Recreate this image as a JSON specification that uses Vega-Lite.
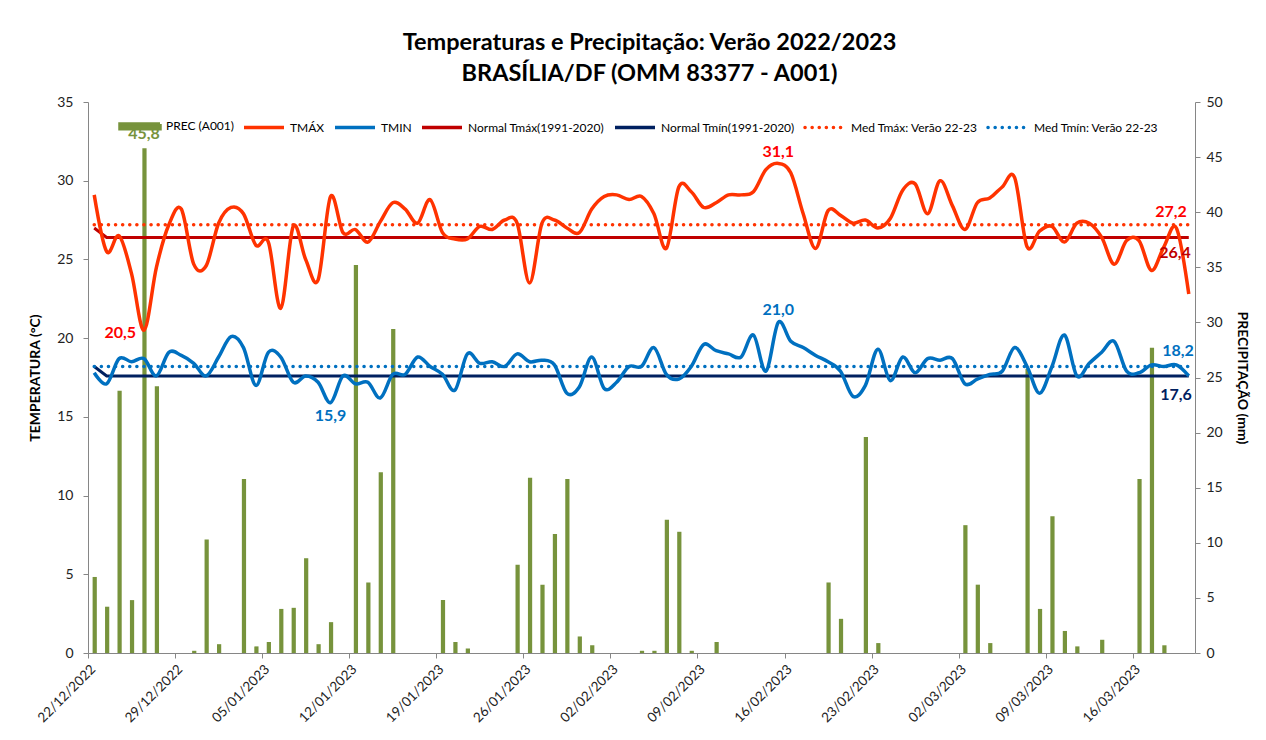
{
  "$schema": "https://vega.github.io/schema/vega-lite/v6.json",
  "width": 1107,
  "height": 551,
  "autosize": {"type": "none"},
  "padding": {"left": 88, "top": 102, "right": 71, "bottom": 87},
  "background": "white",
  "config": {"view": {"stroke": null}, "font": "Lato"},
  "title": {
    "text": ["Temperaturas e Precipitação: Verão 2022/2023", "BRASÍLIA/DF (OMM 83377 - A001)"],
    "font": "Lato", "fontSize": 23.5, "fontWeight": "bold", "color": "#000000",
    "lineHeight": 31, "anchor": "middle", "dx": 8, "offset": 10
  },
  "datasets": {
    "daily": [
      {"date": "2022-12-22", "prec": 6.9, "tmax": 29.1, "tmin": 17.8},
      {"date": "2022-12-23", "prec": 4.2, "tmax": 25.5, "tmin": 17.1},
      {"date": "2022-12-24", "prec": 23.8, "tmax": 26.5, "tmin": 18.7},
      {"date": "2022-12-25", "prec": 4.8, "tmax": 24.1, "tmin": 18.5},
      {"date": "2022-12-26", "prec": 45.8, "tmax": 20.5, "tmin": 18.7},
      {"date": "2022-12-27", "prec": 24.2, "tmax": 24.5, "tmin": 17.6},
      {"date": "2022-12-28", "prec": 0, "tmax": 27.2, "tmin": 19.1},
      {"date": "2022-12-29", "prec": 0, "tmax": 28.2, "tmin": 18.9},
      {"date": "2022-12-30", "prec": 0.2, "tmax": 24.7, "tmin": 18.4},
      {"date": "2022-12-31", "prec": 10.3, "tmax": 24.6, "tmin": 17.6},
      {"date": "2023-01-01", "prec": 0.8, "tmax": 27.3, "tmin": 18.8},
      {"date": "2023-01-02", "prec": 0, "tmax": 28.3, "tmin": 20.1},
      {"date": "2023-01-03", "prec": 15.8, "tmax": 27.9, "tmin": 19.4},
      {"date": "2023-01-04", "prec": 0.6, "tmax": 25.9, "tmin": 17.0},
      {"date": "2023-01-05", "prec": 1.0, "tmax": 26.1, "tmin": 19.1},
      {"date": "2023-01-06", "prec": 4.0, "tmax": 21.9, "tmin": 18.8},
      {"date": "2023-01-07", "prec": 4.1, "tmax": 27.1, "tmin": 17.2},
      {"date": "2023-01-08", "prec": 8.6, "tmax": 25.0, "tmin": 17.6},
      {"date": "2023-01-09", "prec": 0.8, "tmax": 23.7, "tmin": 17.2},
      {"date": "2023-01-10", "prec": 2.8, "tmax": 29.0, "tmin": 15.9},
      {"date": "2023-01-11", "prec": 0, "tmax": 26.7, "tmin": 17.6},
      {"date": "2023-01-12", "prec": 35.2, "tmax": 26.9, "tmin": 17.1},
      {"date": "2023-01-13", "prec": 6.4, "tmax": 26.1, "tmin": 17.2},
      {"date": "2023-01-14", "prec": 16.4, "tmax": 27.4, "tmin": 16.2},
      {"date": "2023-01-15", "prec": 29.4, "tmax": 28.6, "tmin": 17.7},
      {"date": "2023-01-16", "prec": 0, "tmax": 28.2, "tmin": 17.7},
      {"date": "2023-01-17", "prec": 0, "tmax": 27.3, "tmin": 18.8},
      {"date": "2023-01-18", "prec": 0, "tmax": 28.8, "tmin": 18.2},
      {"date": "2023-01-19", "prec": 4.8, "tmax": 26.7, "tmin": 17.7},
      {"date": "2023-01-20", "prec": 1.0, "tmax": 26.3, "tmin": 16.7},
      {"date": "2023-01-21", "prec": 0.4, "tmax": 26.3, "tmin": 19.0},
      {"date": "2023-01-22", "prec": 0, "tmax": 27.1, "tmin": 18.4},
      {"date": "2023-01-23", "prec": 0, "tmax": 26.9, "tmin": 18.5},
      {"date": "2023-01-24", "prec": 0, "tmax": 27.5, "tmin": 18.2},
      {"date": "2023-01-25", "prec": 8.0, "tmax": 27.3, "tmin": 19.0},
      {"date": "2023-01-26", "prec": 15.9, "tmax": 23.5, "tmin": 18.5},
      {"date": "2023-01-27", "prec": 6.2, "tmax": 27.3, "tmin": 18.6},
      {"date": "2023-01-28", "prec": 10.8, "tmax": 27.5, "tmin": 18.3},
      {"date": "2023-01-29", "prec": 15.8, "tmax": 27.0, "tmin": 16.5},
      {"date": "2023-01-30", "prec": 1.5, "tmax": 26.7, "tmin": 16.9},
      {"date": "2023-01-31", "prec": 0.7, "tmax": 28.2, "tmin": 18.8},
      {"date": "2023-02-01", "prec": 0, "tmax": 29.0, "tmin": 16.8},
      {"date": "2023-02-02", "prec": 0, "tmax": 29.1, "tmin": 17.2},
      {"date": "2023-02-03", "prec": 0, "tmax": 28.8, "tmin": 18.2},
      {"date": "2023-02-04", "prec": 0.2, "tmax": 29.0, "tmin": 18.2},
      {"date": "2023-02-05", "prec": 0.2, "tmax": 27.9, "tmin": 19.4},
      {"date": "2023-02-06", "prec": 12.1, "tmax": 25.7, "tmin": 17.7},
      {"date": "2023-02-07", "prec": 11.0, "tmax": 29.6, "tmin": 17.4},
      {"date": "2023-02-08", "prec": 0.2, "tmax": 29.3, "tmin": 18.2},
      {"date": "2023-02-09", "prec": 0, "tmax": 28.3, "tmin": 19.6},
      {"date": "2023-02-10", "prec": 1.0, "tmax": 28.6, "tmin": 19.2},
      {"date": "2023-02-11", "prec": 0, "tmax": 29.1, "tmin": 19.0},
      {"date": "2023-02-12", "prec": 0, "tmax": 29.1, "tmin": 18.8},
      {"date": "2023-02-13", "prec": 0, "tmax": 29.3, "tmin": 20.2},
      {"date": "2023-02-14", "prec": 0, "tmax": 30.7, "tmin": 17.9},
      {"date": "2023-02-15", "prec": 0, "tmax": 31.1, "tmin": 21.0},
      {"date": "2023-02-16", "prec": 0, "tmax": 30.5, "tmin": 19.8},
      {"date": "2023-02-17", "prec": 0, "tmax": 27.9, "tmin": 19.4},
      {"date": "2023-02-18", "prec": 0, "tmax": 25.7, "tmin": 18.9},
      {"date": "2023-02-19", "prec": 6.4, "tmax": 28.1, "tmin": 18.5},
      {"date": "2023-02-20", "prec": 3.1, "tmax": 27.8, "tmin": 17.9},
      {"date": "2023-02-21", "prec": 0, "tmax": 27.3, "tmin": 16.3},
      {"date": "2023-02-22", "prec": 19.6, "tmax": 27.5, "tmin": 17.0},
      {"date": "2023-02-23", "prec": 0.9, "tmax": 27.0, "tmin": 19.3},
      {"date": "2023-02-24", "prec": 0, "tmax": 27.6, "tmin": 17.3},
      {"date": "2023-02-25", "prec": 0, "tmax": 29.4, "tmin": 18.8},
      {"date": "2023-02-26", "prec": 0, "tmax": 29.8, "tmin": 17.8},
      {"date": "2023-02-27", "prec": 0, "tmax": 27.9, "tmin": 18.7},
      {"date": "2023-02-28", "prec": 0, "tmax": 30.0, "tmin": 18.6},
      {"date": "2023-03-01", "prec": 0, "tmax": 28.4, "tmin": 18.7},
      {"date": "2023-03-02", "prec": 11.6, "tmax": 26.9, "tmin": 17.1},
      {"date": "2023-03-03", "prec": 6.2, "tmax": 28.6, "tmin": 17.4},
      {"date": "2023-03-04", "prec": 0.9, "tmax": 28.9, "tmin": 17.7},
      {"date": "2023-03-05", "prec": 0, "tmax": 29.6, "tmin": 17.9},
      {"date": "2023-03-06", "prec": 0, "tmax": 30.2, "tmin": 19.4},
      {"date": "2023-03-07", "prec": 25.8, "tmax": 25.8, "tmin": 18.2},
      {"date": "2023-03-08", "prec": 4.0, "tmax": 26.8, "tmin": 16.5},
      {"date": "2023-03-09", "prec": 12.4, "tmax": 27.1, "tmin": 18.2},
      {"date": "2023-03-10", "prec": 2.0, "tmax": 26.1, "tmin": 20.2},
      {"date": "2023-03-11", "prec": 0.6, "tmax": 27.3, "tmin": 17.6},
      {"date": "2023-03-12", "prec": 0, "tmax": 27.3, "tmin": 18.4},
      {"date": "2023-03-13", "prec": 1.2, "tmax": 26.4, "tmin": 19.1},
      {"date": "2023-03-14", "prec": 0, "tmax": 24.7, "tmin": 19.8},
      {"date": "2023-03-15", "prec": 0, "tmax": 26.2, "tmin": 17.9},
      {"date": "2023-03-16", "prec": 15.8, "tmax": 26.2, "tmin": 17.8},
      {"date": "2023-03-17", "prec": 27.7, "tmax": 24.3, "tmin": 18.3},
      {"date": "2023-03-18", "prec": 0.7, "tmax": 25.8, "tmin": 18.2},
      {"date": "2023-03-19", "prec": 0, "tmax": 27.0, "tmin": 18.3},
      {"date": "2023-03-20", "prec": 0, "tmax": 22.8, "tmin": 17.6}
    ],
    "refs": [
      {"date": "2022-12-22", "series": "ntmax", "temp": 27.0},
      {"date": "2022-12-23", "series": "ntmax", "temp": 26.4},
      {"date": "2023-03-20", "series": "ntmax", "temp": 26.4},
      {"date": "2022-12-22", "series": "ntmin", "temp": 18.2},
      {"date": "2022-12-23", "series": "ntmin", "temp": 17.6},
      {"date": "2023-03-20", "series": "ntmin", "temp": 17.6},
      {"date": "2022-12-22", "series": "medtmax", "temp": 27.2},
      {"date": "2023-03-20", "series": "medtmax", "temp": 27.2},
      {"date": "2022-12-22", "series": "medtmin", "temp": 18.2},
      {"date": "2023-03-20", "series": "medtmin", "temp": 18.2}
    ]
  },
  "data": {"name": "daily"},
  "encoding": {
    "x": {
      "field": "date", "type": "temporal", "timeUnit": "utcyearmonthdate", "bandPosition": 0.5,
      "scale": {"domain": [{"year": 2022, "month": 12, "date": 22, "utc": true}, {"year": 2023, "month": 3, "date": 21, "utc": true}], "nice": false},
      "axis": {
        "values": [
          {"year": 2022, "month": 12, "date": 22, "utc": true},
          {"year": 2022, "month": 12, "date": 29, "utc": true},
          {"year": 2023, "month": 1, "date": 5, "utc": true},
          {"year": 2023, "month": 1, "date": 12, "utc": true},
          {"year": 2023, "month": 1, "date": 19, "utc": true},
          {"year": 2023, "month": 1, "date": 26, "utc": true},
          {"year": 2023, "month": 2, "date": 2, "utc": true},
          {"year": 2023, "month": 2, "date": 9, "utc": true},
          {"year": 2023, "month": 2, "date": 16, "utc": true},
          {"year": 2023, "month": 2, "date": 23, "utc": true},
          {"year": 2023, "month": 3, "date": 2, "utc": true},
          {"year": 2023, "month": 3, "date": 9, "utc": true},
          {"year": 2023, "month": 3, "date": 16, "utc": true}
        ],
        "labelExpr": "utcFormat(datum.value, '%d/%m/%Y')",
        "labelAngle": -45, "labelFontSize": 13.5,
        "labelColor": "#222222", "labelPadding": 4, "tickSize": 5, "title": null, "grid": false,
        "domainColor": "#868686", "tickColor": "#868686", "labelFont": "Lato"
      }
    }
  },
  "layer": [
    {
      "encoding": {
        "y": {
          "field": "prec", "type": "quantitative",
          "scale": {"domain": [0, 50], "nice": false},
          "axis": {
            "orient": "right", "values": [0, 5, 10, 15, 20, 25, 30, 35, 40, 45, 50],
            "title": "PRECIPITAÇÃO (mm)", "titleFontSize": 14, "titleFontWeight": "bold", "titleColor": "#000000",
            "labelFontSize": 14, "labelColor": "#222222", "tickSize": 5, "labelPadding": 6, "titlePadding": 12,
            "domainColor": "#868686", "tickColor": "#868686", "grid": false
          }
        }
      },
      "layer": [
        {
          "transform": [{"fold": ["prec"], "as": ["series", "prec"]}],
          "mark": {"type": "bar", "width": {"band": 0.42}},
          "encoding": {
            "color": {
              "field": "series", "type": "nominal",
              "scale": {"domain": ["prec", "tmax", "tmin", "ntmax", "ntmin", "medtmax", "medtmin"], "range": ["#77933C", "#FF3300", "#0070C0", "#C00000", "#002060", "#FF3300", "#0070C0"]}
            }
          }
        },
        {
          "data": {"values": [{"date": "2022-12-26", "prec": 45.8, "t": "45,8"}]},
          "mark": {"type": "text", "baseline": "bottom", "dy": -6, "fontSize": 16, "fontWeight": "bold", "color": "#77933C"},
          "encoding": {"text": {"field": "t"}}
        }
      ]
    },
    {
      "encoding": {
        "y": {
          "field": "temp", "type": "quantitative",
          "scale": {"domain": [0, 35], "nice": false},
          "axis": {
            "orient": "left", "values": [0, 5, 10, 15, 20, 25, 30, 35],
            "title": "TEMPERATURA  (°C)", "titleFontSize": 14, "titleFontWeight": "bold", "titleColor": "#000000",
            "labelFontSize": 14, "labelColor": "#222222", "tickSize": 5, "labelPadding": 10, "titlePadding": 14,
            "domainColor": "#868686", "tickColor": "#868686", "grid": false
          }
        }
      },
      "layer": [
        {
          "data": {"name": "refs"},
          "transform": [{"filter": "datum.series === 'ntmax' || datum.series === 'ntmin'"}],
          "mark": {"type": "line", "strokeWidth": 3},
          "encoding": {
            "color": {
              "field": "series", "type": "nominal",
              "scale": {"domain": ["prec", "tmax", "tmin", "ntmax", "ntmin", "medtmax", "medtmin"], "range": ["#77933C", "#FF3300", "#0070C0", "#C00000", "#002060", "#FF3300", "#0070C0"]}
            }
          }
        },
        {
          "data": {"name": "refs"},
          "transform": [{"filter": "datum.series === 'medtmax' || datum.series === 'medtmin'"}],
          "mark": {"type": "line", "strokeWidth": 3.5, "strokeDash": [0.1, 7], "strokeCap": "round"},
          "encoding": {
            "color": {
              "field": "series", "type": "nominal",
              "scale": {"domain": ["prec", "tmax", "tmin", "ntmax", "ntmin", "medtmax", "medtmin"], "range": ["#77933C", "#FF3300", "#0070C0", "#C00000", "#002060", "#FF3300", "#0070C0"]}
            }
          }
        },
        {
          "transform": [{"fold": ["tmax", "tmin"], "as": ["series", "temp"]}],
          "mark": {"type": "line", "interpolate": "cardinal", "strokeWidth": 3.5},
          "encoding": {
            "color": {
              "field": "series", "type": "nominal",
              "scale": {"domain": ["prec", "tmax", "tmin", "ntmax", "ntmin", "medtmax", "medtmin"], "range": ["#77933C", "#FF3300", "#0070C0", "#C00000", "#002060", "#FF3300", "#0070C0"]},
              "legend": {
                "orient": "none", "legendX": 30, "legendY": 2, "direction": "horizontal", "title": null,
                "symbolType": "stroke", "symbolSize": 1600, "symbolStrokeWidth": 3.5,
                "labelFont": "Lato", "labelFontSize": 12, "labelColor": "#000000", "labelOffset": 4, "columnPadding": 3,
                "labelExpr": "{'prec': 'PREC (A001)', 'tmax': 'TMÁX', 'tmin': 'TMIN', 'ntmax': 'Normal Tmáx(1991-2020)', 'ntmin': 'Normal Tmín(1991-2020)', 'medtmax': 'Med Tmáx: Verão 22-23', 'medtmin': 'Med Tmín: Verão 22-23'}[datum.label]",
                "encode": {
                  "symbols": {
                    "update": {
                      "shape": [{"test": "datum.value === 'prec'", "value": "M-1,-0.12H1V0.12H-1Z"}, {"value": "stroke"}],
                      "fill": [{"test": "datum.value === 'prec'", "value": "#77933C"}, {"value": "transparent"}],
                      "strokeDash": [{"test": "datum.value === 'medtmax' || datum.value === 'medtmin'", "value": [0.1, 7]}, {"value": [1, 0]}],
                      "strokeCap": [{"test": "datum.value === 'medtmax' || datum.value === 'medtmin'", "value": "round"}, {"value": "butt"}]
                    }
                  }
                }
              }
            }
          }
        },
        {
          "data": {"values": [{"date": "2022-12-26", "temp": 20.5, "t": "20,5"}]},
          "mark": {"type": "text", "align": "right", "baseline": "middle", "dx": -8, "dy": 3, "fontSize": 16, "fontWeight": "bold", "color": "#FF0000"},
          "encoding": {"text": {"field": "t"}}
        },
        {
          "data": {"values": [{"date": "2023-01-10", "temp": 15.9, "t": "15,9"}]},
          "mark": {"type": "text", "align": "center", "baseline": "top", "dy": 5, "fontSize": 16, "fontWeight": "bold", "color": "#0070C0"},
          "encoding": {"text": {"field": "t"}}
        },
        {
          "data": {"values": [{"date": "2023-02-15", "temp": 31.1, "t": "31,1"}]},
          "mark": {"type": "text", "align": "center", "baseline": "bottom", "dy": -3, "fontSize": 16, "fontWeight": "bold", "color": "#FF0000"},
          "encoding": {"text": {"field": "t"}}
        },
        {
          "data": {"values": [{"date": "2023-02-15", "temp": 21.0, "t": "21,0"}]},
          "mark": {"type": "text", "align": "center", "baseline": "bottom", "dy": -4, "fontSize": 16, "fontWeight": "bold", "color": "#0070C0"},
          "encoding": {"text": {"field": "t"}}
        },
        {
          "data": {"values": [{"date": "2023-03-20", "temp": 27.2, "t": "27,2"}]},
          "mark": {"type": "text", "align": "right", "baseline": "bottom", "dx": -2, "dy": -5, "fontSize": 16, "fontWeight": "bold", "color": "#FF0000"},
          "encoding": {"text": {"field": "t"}}
        },
        {
          "data": {"values": [{"date": "2023-03-20", "temp": 26.4, "t": "26,4"}]},
          "mark": {"type": "text", "align": "right", "baseline": "top", "dx": 2, "dy": 8, "fontSize": 16, "fontWeight": "bold", "color": "#C00000"},
          "encoding": {"text": {"field": "t"}}
        },
        {
          "data": {"values": [{"date": "2023-03-20", "temp": 18.2, "t": "18,2"}]},
          "mark": {"type": "text", "align": "right", "baseline": "bottom", "dx": 5, "dy": -7, "fontSize": 16, "fontWeight": "bold", "color": "#0070C0"},
          "encoding": {"text": {"field": "t"}}
        },
        {
          "data": {"values": [{"date": "2023-03-20", "temp": 17.6, "t": "17,6"}]},
          "mark": {"type": "text", "align": "right", "baseline": "top", "dx": 3, "dy": 11, "fontSize": 16, "fontWeight": "bold", "color": "#002060"},
          "encoding": {"text": {"field": "t"}}
        }
      ]
    }
  ],
  "resolve": {"scale": {"y": "independent"}, "axis": {"y": "independent"}}
}
